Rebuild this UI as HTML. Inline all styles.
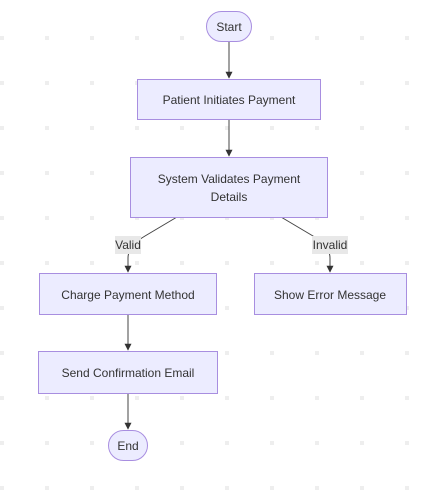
<!DOCTYPE html>
<html><head><style>
html,body{margin:0;padding:0;background:#fff;}
svg{display:block;}
text{font-family:"Liberation Sans","DejaVu Sans",sans-serif;font-size:12px;fill:#333;}
</style></head><body>
<svg width="425" height="499" viewBox="0 0 425 499" xmlns="http://www.w3.org/2000/svg">
<defs>
<pattern id="dots" x="0" y="-9" width="45" height="45" patternUnits="userSpaceOnUse">
<rect x="0" y="0" width="4" height="4" fill="#eeeeee"/>
</pattern>
<marker id="ar" viewBox="0 0 10 10" refX="9" refY="5" markerWidth="7" markerHeight="7" orient="auto">
<path d="M0,0 L10,5 L0,10 z" fill="#333"/>
</marker>
</defs>
<rect width="425" height="499" fill="url(#dots)"/>
<g stroke="#444" stroke-width="1" fill="none">
<path d="M229,41 V78" marker-end="url(#ar)"/>
<path d="M229,119 V156" marker-end="url(#ar)"/>
<path d="M128,314 V350" marker-end="url(#ar)"/>
<path d="M128,393 V429" marker-end="url(#ar)"/>
<path d="M177,217 L145,236 Q128,246 128,258 V272" marker-end="url(#ar)"/>
<path d="M281,217 L313,236 Q330,246 330,258 V272" marker-end="url(#ar)"/>
</g>
<g fill="#ececff" stroke="#a88ee0" stroke-width="1">
<rect x="206.5" y="11.5" width="45" height="30" rx="15"/>
<rect x="137.5" y="79.5" width="183" height="40"/>
<rect x="130.5" y="157.5" width="197" height="60"/>
<rect x="39.5" y="273.5" width="177" height="41"/>
<rect x="254.5" y="273.5" width="152" height="41"/>
<rect x="38.5" y="351.5" width="179" height="42"/>
<rect x="108.5" y="430.5" width="39" height="30" rx="15"/>
</g>
<rect x="115" y="236" width="26" height="18" fill="#e8e8e8"/>
<rect x="312" y="236" width="36" height="18" fill="#e8e8e8"/>
<g text-anchor="middle">
<text x="229" y="31">Start</text>
<text x="229" y="104">Patient Initiates Payment</text>
<text x="229" y="183">System Validates Payment</text>
<text x="229" y="201">Details</text>
<text x="128" y="299">Charge Payment Method</text>
<text x="330" y="299">Show Error Message</text>
<text x="128" y="377">Send Confirmation Email</text>
<text x="128" y="450">End</text>
<text x="128" y="249">Valid</text>
<text x="330" y="249">Invalid</text>
</g>
</svg>
</body></html>
